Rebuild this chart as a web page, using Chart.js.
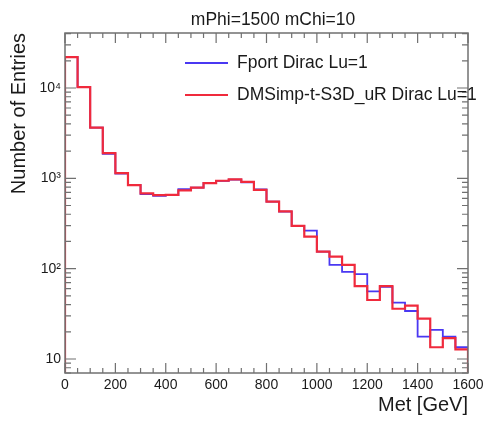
<!DOCTYPE html>
<html><head><meta charset="utf-8">
<script src="https://cdn.jsdelivr.net/npm/chart.js@4.4.0/dist/chart.umd.min.js"></script>
<style>html,body{margin:0;padding:0;background:#fff;}#wrap{width:491px;height:422px;position:relative;}canvas{display:block;}</style>
</head><body><div id="wrap"><canvas id="c" width="491" height="422"></canvas></div>
<script>
// Bin lower/upper edges of the Met histogram [GeV]
const binEdges = [0,50,100,150,200,250,300,350,400,450,500,550,600,650,700,750,800,850,900,950,1000,1050,1100,1150,1200,1250,1300,1350,1400,1450,1500,1550,1600];
// Entries per bin
const fportValues  = [21900,10200,3640,1870,1130,840,670,640,650,760,790,885,935,965,900,755,551,427,297,263,154,110,92,87,56,63,42,34,17.7,21,17.7,13.5];
const dmsimpValues = [21900,10200,3640,1900,1140,840,680,650,655,735,790,885,940,975,915,745,551,430,297,226,154,136,110,64,45,64,36,39,28,13.5,17,12.8];
const seriesNames = ["Fport Dirac Lu=1", "DMSimp-t-S3D_uR Dirac Lu=1"];
const xTickValues = [0,200,400,600,800,1000,1200,1400,1600];
const yTickValues = [10,100,1000,10000];
const titleText = "mPhi=1500 mChi=10";
const xTitle = "Met [GeV]";
const yTitle = "Number of Entries";

const Y_MIN = 7, Y_MAX = 40600, X_MIN = 0, X_MAX = 1600;
const FONT = '"Liberation Sans", Arial, Helvetica, sans-serif';
const BLUE = '#4a38f2', RED = '#f02a3c';
const SUP = {'1':'\u00b9','2':'\u00b2','3':'\u00b3','4':'\u2074','5':'\u2075'};

function histPoints(vals){
  const n = binEdges.length - 1;
  const pts = [{x: binEdges[0], y: Y_MIN}];
  for (let i = 0; i < vals.length; i++) pts.push({x: binEdges[i], y: vals[i]});
  pts.push({x: binEdges[n], y: vals[vals.length-1]});
  pts.push({x: binEdges[n], y: Y_MIN});
  return pts;
}

const framePlugin = {
  id: 'frame',
  afterDraw(chart){
    const ctx = chart.ctx, a = chart.chartArea;
    const xs = chart.scales.x, ys = chart.scales.y;
    ctx.save();
    ctx.strokeStyle = '#707070';
    ctx.lineWidth = 1.5;
    ctx.strokeRect(a.left, a.top, a.right - a.left, a.bottom - a.top);
    ctx.lineWidth = 1.2;
    ctx.beginPath();
    for (let v = X_MIN; v <= X_MAX; v += 50) {
      const px = xs.getPixelForValue(v);
      const len = (v % 200 === 0) ? 10 : 5;
      ctx.moveTo(px, a.bottom); ctx.lineTo(px, a.bottom - len);
      ctx.moveTo(px, a.top); ctx.lineTo(px, a.top + len);
    }
    for (let d = 0; d <= 5; d++) {
      for (let m = 1; m <= 9; m++) {
        const v = m * Math.pow(10, d);
        if (v < Y_MIN || v > Y_MAX) continue;
        const py = ys.getPixelForValue(v);
        const len = (m === 1) ? 11 : 6;
        ctx.moveTo(a.left, py); ctx.lineTo(a.left + len, py);
        ctx.moveTo(a.right, py); ctx.lineTo(a.right - len, py);
      }
    }
    ctx.stroke();

    ctx.fillStyle = '#1a1a1a';
    ctx.font = '17.5px ' + FONT;
    ctx.textAlign = 'center'; ctx.textBaseline = 'middle';
    ctx.fillText(titleText, 273, 20);

    ctx.font = '20px ' + FONT;
    ctx.textAlign = 'right'; ctx.textBaseline = 'middle';
    ctx.fillText(xTitle, a.right, 405);

    ctx.save();
    ctx.translate(19, a.top);
    ctx.rotate(-Math.PI/2);
    ctx.textAlign = 'right'; ctx.textBaseline = 'middle';
    ctx.fillText(yTitle, 0, 0);
    ctx.restore();

    const items = [[seriesNames[0], BLUE, 1.8, 63], [seriesNames[1], RED, 2.2, 95]];
    ctx.font = '17.5px ' + FONT;
    ctx.textAlign = 'left'; ctx.textBaseline = 'middle';
    for (const [t, c, w, y] of items) {
      ctx.strokeStyle = c; ctx.lineWidth = w;
      ctx.beginPath(); ctx.moveTo(185, y); ctx.lineTo(228, y); ctx.stroke();
      ctx.fillStyle = '#1a1a1a';
      ctx.fillText(t, 237, y);
    }
    ctx.restore();
  }
};

new Chart(document.getElementById('c'), {
  type: 'line',
  data: {
    datasets: [
      {label: seriesNames[0], data: histPoints(fportValues), borderColor: BLUE, borderWidth: 1.8,
       stepped: 'before', pointRadius: 0, fill: false, order: 1},
      {label: seriesNames[1], data: histPoints(dmsimpValues), borderColor: RED, borderWidth: 2.2,
       stepped: 'before', pointRadius: 0, fill: false, order: 0}
    ]
  },
  options: {
    responsive: false,
    devicePixelRatio: 1,
    animation: false,
    layout: {padding: {left: 0, right: 23, top: 33, bottom: 0}},
    plugins: {legend: {display: false}, tooltip: {enabled: false}, title: {display: false}},
    scales: {
      x: {
        type: 'linear', min: X_MIN, max: X_MAX, position: 'bottom',
        afterBuildTicks: s => { s.ticks = xTickValues.map(v => ({value: v})); },
        afterFit: s => { s.height = 49; },
        grid: {display: false, drawTicks: false},
        border: {display: false},
        ticks: {font: {family: FONT, size: 14}, color: '#1a1a1a', padding: 4, maxRotation: 0, autoSkip: false,
                callback: v => String(v)}
      },
      y: {
        type: 'logarithmic', min: Y_MIN, max: Y_MAX, position: 'left',
        afterBuildTicks: s => { s.ticks = yTickValues.map(v => ({value: v})); },
        afterFit: s => { s.width = 65; },
        grid: {display: false, drawTicks: false},
        border: {display: false},
        ticks: {font: {family: FONT, size: 14}, color: '#1a1a1a', padding: 4, autoSkip: false,
                callback: v => { const e = Math.round(Math.log10(v)); return e === 1 ? '10' : '10' + SUP[String(e)]; }}
      }
    }
  },
  plugins: [framePlugin]
});
</script>
</body></html>
